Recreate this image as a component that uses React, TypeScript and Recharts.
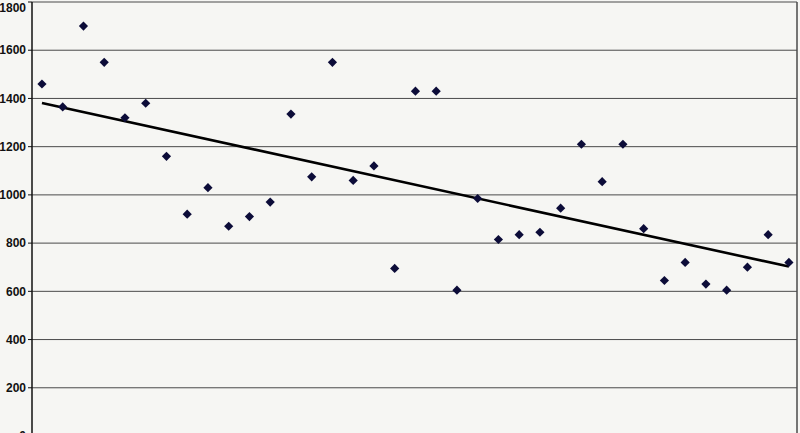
import React from "react";
import {
  CartesianGrid,
  ComposedChart,
  Line,
  ReferenceLine,
  Scatter,
  XAxis,
  YAxis,
} from "recharts";

// readings, one per period
const values = [
  1460, 1365, 1700, 1550, 1320, 1380, 1160, 920, 1030, 870, 910, 970, 1335,
  1075, 1550, 1060, 1120, 695, 1430, 1430, 605, 985, 815, 835, 845, 945, 1210,
  1055, 1210, 860, 645, 720, 630, 605, 700, 835, 720,
];

const yTicks = [0, 200, 400, 600, 800, 1000, 1200, 1400, 1600, 1800];
const xDomain = [0.52, 37.39];

const points = values.map((v, i) => ({ x: i + 1, y: v }));

// least squares trend line
function trendLine(pts: { x: number; y: number }[]) {
  const n = pts.length;
  const mx = pts.reduce((s, p) => s + p.x, 0) / n;
  const my = pts.reduce((s, p) => s + p.y, 0) / n;
  let num = 0;
  let den = 0;
  pts.forEach((p) => {
    num += (p.x - mx) * (p.y - my);
    den += (p.x - mx) * (p.x - mx);
  });
  const b = num / den;
  const a = my - b * mx;
  const first = pts[0].x;
  const last = pts[n - 1].x;
  return [
    { x: first, y: a + b * first },
    { x: last, y: a + b * last },
  ];
}

const trend = trendLine(points);

const Diamond = (props: any) => {
  const { cx, cy } = props;
  const r = 4.6;
  return (
    <polygon
      points={`${cx},${cy - r} ${cx + r},${cy} ${cx},${cy + r} ${cx - r},${cy}`}
      fill="#0c0c38"
    />
  );
};

export default function App() {
  return (
    <div
      style={{
        position: "fixed",
        top: 0,
        left: 0,
        width: 800,
        height: 433,
        overflow: "hidden",
        background: "#f6f6f3",
      }}
    >
      <ComposedChart
        width={800}
        height={446}
        margin={{ top: 2, right: 3, bottom: 10, left: 0 }}
      >
        <CartesianGrid vertical={false} stroke="#4a4a4a" strokeWidth={1} />
        <XAxis
          type="number"
          dataKey="x"
          domain={xDomain}
          allowDataOverflow
          hide
        />
        <YAxis
          type="number"
          domain={[0, 1800]}
          ticks={yTicks}
          width={32}
          axisLine={{ stroke: "#111", strokeWidth: 1.5 }}
          tickLine={{ stroke: "#111" }}
          tickSize={4}
          tickMargin={2}
          tick={{
            fill: "#111",
            fontSize: 12,
            fontWeight: 700,
            fontFamily: "Liberation Sans, Arial, sans-serif",
          }}
        />
        <ReferenceLine x={xDomain[1]} stroke="#4a4a4a" strokeWidth={1.5} />
        <Line
          data={trend}
          dataKey="y"
          type="linear"
          stroke="#000"
          strokeWidth={2.6}
          dot={false}
          activeDot={false}
          isAnimationActive={false}
        />
        <Scatter
          data={points}
          dataKey="y"
          shape={<Diamond />}
          isAnimationActive={false}
        />
      </ComposedChart>
    </div>
  );
}
